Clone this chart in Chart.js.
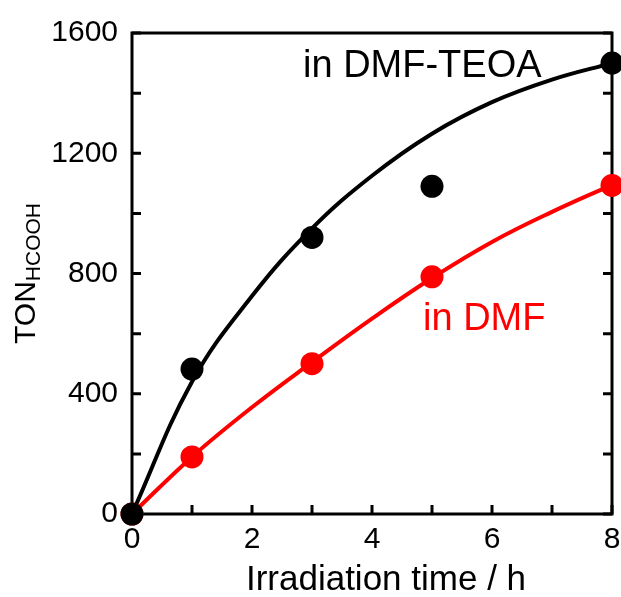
<!DOCTYPE html>
<html>
<head>
<meta charset="utf-8">
<script src="https://cdn.jsdelivr.net/npm/chart.js@4.4.0/dist/chart.umd.min.js"></script>
<style>
  html, body { margin: 0; padding: 0; background: #fff; }
  canvas { display: block; }
</style>
</head>
<body>
<canvas id="tonChart" width="621" height="597"></canvas>
<script>
// datos medidos (puntos)
const teoaTime = [0, 1, 3, 5, 8];
const teoaTon = [0, 482, 920, 1090, 1500];
const dmfTime = [0, 1, 3, 5, 8];
const dmfTon = [0, 190, 500, 789, 1093];

// curvas de ajuste
const teoaFitTime = [0, 1, 2, 3, 4, 5, 6, 7, 8];
const teoaFitTon = [0, 440, 725, 950, 1125, 1265, 1370, 1445, 1500];
const dmfFitTime = [0, 1, 2, 3, 4, 5, 6, 7, 8];
const dmfFitTon = [0, 190, 355, 505, 650, 785, 905, 1005, 1095];

// marcas de los ejes
const xTickMarks = [0, 1, 2, 3, 4, 5, 6, 7, 8];
const yTickMarks = [0, 200, 400, 600, 800, 1000, 1200, 1400, 1600];

const FONT = "'Liberation Sans', Arial, Helvetica, sans-serif";

function toPoints(xs, ys) {
  return xs.map((x, i) => ({ x: x, y: ys[i] }));
}

// marco y marcas hacia dentro
const framePlugin = {
  id: 'frame',
  beforeDatasetsDraw(chart) {
    const { ctx, chartArea: a, scales: { x, y } } = chart;
    const len = 9;
    ctx.save();
    ctx.strokeStyle = '#000';
    ctx.lineWidth = 3;
    ctx.beginPath();
    xTickMarks.forEach(v => {
      const px = x.getPixelForValue(v);
      ctx.moveTo(px, a.bottom);
      ctx.lineTo(px, a.bottom - len);
    });
    yTickMarks.forEach(v => {
      const py = y.getPixelForValue(v);
      ctx.moveTo(a.left, py);
      ctx.lineTo(a.left + len, py);
      ctx.moveTo(a.right, py);
      ctx.lineTo(a.right - len, py);
    });
    ctx.stroke();
    ctx.strokeRect(a.left, a.top, a.right - a.left, a.bottom - a.top);
    ctx.restore();
  },
  afterDraw(chart) {
    const { ctx, chartArea: a, scales: { x, y } } = chart;
    ctx.save();
    // etiquetas de las series
    ctx.font = '38px ' + FONT;
    ctx.textBaseline = 'alphabetic';
    ctx.textAlign = 'left';
    ctx.fillStyle = '#000';
    ctx.fillText('in DMF-TEOA', x.getPixelForValue(2.85), y.getPixelForValue(1454));
    ctx.fillStyle = '#ff0000';
    ctx.fillText('in DMF', x.getPixelForValue(4.85), y.getPixelForValue(612));

    // titulo del eje x
    ctx.fillStyle = '#000';
    ctx.font = '35px ' + FONT;
    ctx.textAlign = 'center';
    ctx.fillText('Irradiation time / h', 386, 590);

    // titulo del eje y con subindice
    ctx.textAlign = 'left';
    const cy = (a.top + a.bottom) / 2;
    ctx.translate(35, cy);
    ctx.rotate(-Math.PI / 2);
    ctx.font = '30px ' + FONT;
    const w1 = ctx.measureText('TON').width;
    ctx.font = '21px ' + FONT;
    const w2 = ctx.measureText('HCOOH').width;
    const start = -(w1 + w2) / 2;
    ctx.font = '30px ' + FONT;
    ctx.fillText('TON', start, 0);
    ctx.font = '21px ' + FONT;
    ctx.fillText('HCOOH', start + w1, 5);
    ctx.restore();
  }
};

new Chart(document.getElementById('tonChart').getContext('2d'), {
  type: 'scatter',
  data: {
    datasets: [
      {
        label: 'in DMF-TEOA',
        data: toPoints(teoaTime, teoaTon),
        backgroundColor: '#000',
        borderWidth: 0,
        pointRadius: 11.5,
        clip: false,
        order: 0
      },
      {
        label: 'in DMF',
        data: toPoints(dmfTime, dmfTon),
        backgroundColor: '#ff0000',
        borderWidth: 0,
        pointRadius: 11.5,
        clip: false,
        order: 1
      },
      {
        label: 'ajuste DMF-TEOA',
        data: toPoints(teoaFitTime, teoaFitTon),
        showLine: true,
        borderColor: '#000',
        borderWidth: 4,
        pointRadius: 0,
        tension: 0.4,
        clip: false,
        order: 2
      },
      {
        label: 'ajuste DMF',
        data: toPoints(dmfFitTime, dmfFitTon),
        showLine: true,
        borderColor: '#ff0000',
        borderWidth: 4,
        pointRadius: 0,
        tension: 0.4,
        clip: false,
        order: 3
      }
    ]
  },
  options: {
    responsive: false,
    animation: false,
    layout: { autoPadding: false, padding: { top: 33, right: 9, left: 0, bottom: 0 } },
    plugins: {
      legend: { display: false },
      tooltip: { enabled: false }
    },
    scales: {
      x: {
        type: 'linear',
        min: 0,
        max: 8,
        grid: { display: false, drawTicks: false },
        border: { display: false },
        ticks: {
          stepSize: 2,
          padding: 8,
          color: '#000',
          font: { family: FONT, size: 30 },
          callback: v => String(v)
        },
        afterFit(scale) {
          scale.height = 83;
          scale.paddingLeft = 0;
          scale.paddingRight = 0;
        }
      },
      y: {
        type: 'linear',
        min: 0,
        max: 1600,
        grid: { display: false, drawTicks: false },
        border: { display: false },
        ticks: {
          stepSize: 400,
          padding: 14,
          color: '#000',
          font: { family: FONT, size: 30 },
          callback: v => String(v)
        },
        afterFit(scale) {
          scale.width = 132;
          scale.paddingTop = 0;
          scale.paddingBottom = 0;
        }
      }
    }
  },
  plugins: [framePlugin]
});
</script>
</body>
</html>
